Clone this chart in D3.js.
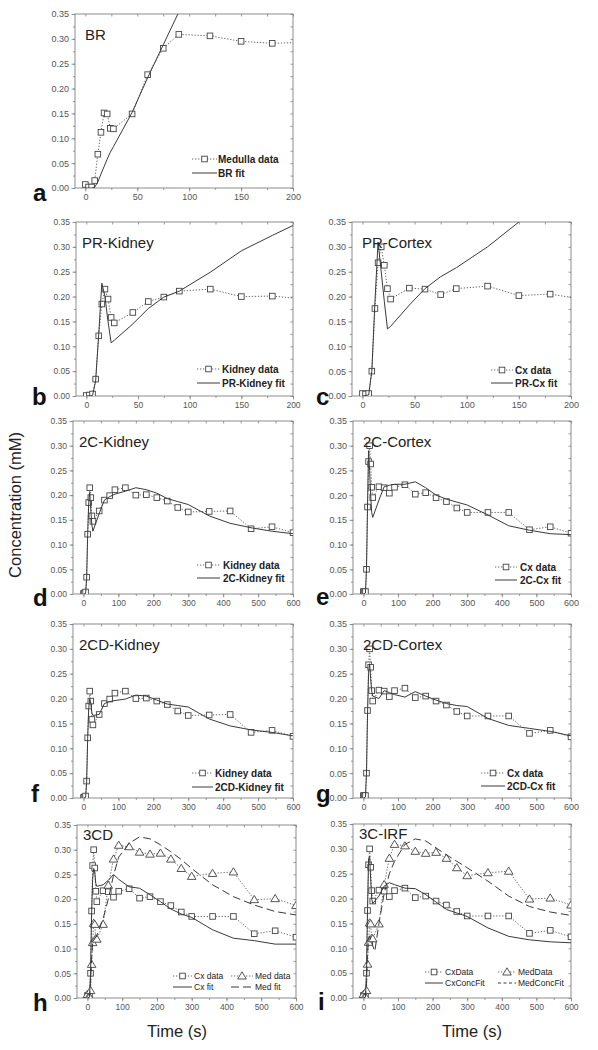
<!DOCTYPE html>
<html><head><meta charset="utf-8">
<script src="https://cdn.jsdelivr.net/npm/d3@7"></script>
<style>body{margin:0;background:#fff} svg{display:block} text{font-family:"Liberation Sans",Arial,sans-serif}</style>
</head><body><svg id="c" width="598" height="1050"></svg>
<script>
// ---------- data ----------
const times = [0,3,6,9,12,15,18,21,24,27,45,60,75,90,120,150,180,210,240,270,300,360,420,480,540,600];
const medullaData = [0.007,0.002,0.002,0.015,0.068,0.112,0.151,0.149,0.120,0.119,0.149,0.228,0.281,0.309,0.306,0.295,0.291,0.293,0.281,0.262,0.246,0.252,0.255,0.199,0.201,0.187];
const kidneyData  = [0.001,0.002,0.004,0.034,0.121,0.185,0.215,0.195,0.158,0.147,0.168,0.190,0.199,0.211,0.215,0.200,0.201,0.195,0.188,0.175,0.166,0.167,0.168,0.132,0.136,0.124];
const cortexData  = [0.005,0.004,0.005,0.050,0.176,0.268,0.300,0.263,0.216,0.195,0.217,0.215,0.204,0.216,0.221,0.202,0.205,0.195,0.187,0.174,0.165,0.165,0.165,0.130,0.136,0.123];

const brFit = [[0,0],[6,0],[9,0.002],[12,0.012],[15,0.028],[18,0.043],[21,0.058],[24,0.072],[27,0.083],[45,0.152],[60,0.222],[75,0.288],[90,0.354],[120,0.48]];
const prKidneyFit = [[0,0],[6,0.001],[9,0.03],[12,0.125],[15,0.227],[18,0.2],[21,0.15],[24,0.107],[27,0.112],[45,0.145],[60,0.176],[75,0.199],[90,0.211],[120,0.249],[150,0.292],[180,0.323],[210,0.353]];
const prCortexFit = [[0,0],[6,0.002],[9,0.05],[12,0.19],[15,0.31],[18,0.25],[21,0.19],[24,0.135],[27,0.14],[45,0.183],[60,0.216],[75,0.24],[90,0.258],[120,0.3],[150,0.35],[180,0.4]];
const c2KidneyFit = [[0,0],[6,0.001],[9,0.03],[12,0.12],[15,0.185],[18,0.205],[21,0.17],[24,0.14],[27,0.127],[45,0.163],[60,0.19],[75,0.197],[90,0.202],[120,0.208],[150,0.215],[180,0.211],[210,0.204],[240,0.193],[270,0.187],[300,0.181],[360,0.158],[420,0.143],[480,0.134],[540,0.127],[600,0.122]];
const c2CortexFit = [[0,0],[6,0.002],[9,0.05],[12,0.18],[15,0.29],[18,0.25],[21,0.2],[24,0.165],[27,0.155],[45,0.19],[60,0.217],[75,0.22],[90,0.222],[120,0.222],[150,0.227],[180,0.215],[210,0.2],[240,0.192],[270,0.186],[300,0.18],[360,0.16],[420,0.138],[480,0.129],[540,0.122],[600,0.12]];
const c2dKidneyFit = [[0,0],[6,0.001],[9,0.03],[12,0.12],[15,0.18],[18,0.2],[21,0.19],[24,0.172],[27,0.166],[45,0.168],[60,0.19],[75,0.194],[90,0.196],[120,0.199],[150,0.207],[180,0.205],[210,0.197],[240,0.189],[270,0.186],[300,0.183],[360,0.159],[420,0.145],[480,0.137],[540,0.132],[600,0.125]];
const c2dCortexFit = [[0,0],[6,0.002],[9,0.05],[12,0.17],[15,0.25],[18,0.27],[21,0.24],[24,0.215],[27,0.205],[45,0.2],[60,0.216],[75,0.212],[90,0.208],[120,0.203],[150,0.214],[180,0.205],[210,0.197],[240,0.19],[270,0.186],[300,0.184],[360,0.16],[420,0.146],[480,0.14],[540,0.134],[600,0.125]];
const c3dCxFit = [[0,0],[6,0.002],[9,0.05],[12,0.17],[15,0.24],[18,0.262],[21,0.255],[24,0.232],[27,0.226],[45,0.229],[60,0.238],[75,0.25],[90,0.24],[120,0.225],[150,0.222],[180,0.209],[210,0.195],[240,0.18],[270,0.17],[300,0.163],[360,0.138],[420,0.121],[480,0.116],[540,0.109],[600,0.109]];
const c3dMedFit = [[0,0],[6,0.002],[9,0.03],[12,0.08],[15,0.11],[18,0.118],[21,0.12],[24,0.122],[27,0.126],[45,0.16],[60,0.2],[75,0.248],[90,0.285],[120,0.313],[150,0.326],[180,0.322],[210,0.31],[240,0.296],[270,0.28],[300,0.262],[360,0.229],[420,0.205],[480,0.188],[540,0.175],[600,0.168]];
const c3irfCxFit = [[0,0],[6,0.002],[9,0.05],[12,0.18],[15,0.28],[18,0.285],[21,0.24],[24,0.2],[27,0.19],[45,0.205],[60,0.225],[75,0.232],[90,0.228],[120,0.221],[150,0.22],[180,0.208],[210,0.193],[240,0.178],[270,0.171],[300,0.164],[360,0.141],[420,0.124],[480,0.117],[540,0.113],[600,0.111]];
const c3irfMedFit = [[0,0],[6,0.002],[9,0.03],[12,0.09],[15,0.12],[18,0.125],[21,0.118],[24,0.12],[27,0.105],[33,0.094],[45,0.15],[60,0.21],[75,0.25],[90,0.275],[120,0.309],[150,0.32],[180,0.316],[210,0.302],[240,0.288],[270,0.275],[300,0.262],[360,0.235],[420,0.205],[480,0.184],[540,0.173],[600,0.166]];

const yTicks = [0,0.05,0.10,0.15,0.20,0.25,0.30,0.35];
const xTicksShort = [0,50,100,150,200];
const xTicksLong = [0,100,200,300,400,500,600];
const panelLetters = ["a","b","c","d","e","f","g","h","i"];
const panelTitles = ["BR","PR-Kidney","PR-Cortex","2C-Kidney","2C-Cortex","2CD-Kidney","2CD-Cortex","3CD","3C-IRF"];
const legendLabels = [
  ["Medulla data","BR fit"],
  ["Kidney data","PR-Kidney fit"],
  ["Cx data","PR-Cx fit"],
  ["Kidney data","2C-Kidney fit"],
  ["Cx data","2C-Cx fit"],
  ["Kidney data","2CD-Kidney fit"],
  ["Cx data","2CD-Cx fit"],
  ["Cx data","Med data","Cx fit","Med fit"],
  ["CxData","MedData","CxConcFit","MedConcFit"]
];

// ---------- layout ----------
const svg = d3.select("#c");
svg.append("rect").attr("width",598).attr("height",1050).attr("fill","#fff");

const AX = "#808080", LBL = "#555", DATA = "#555", FIT = "#3a3a3a";

const panels = [
  {box:[75,14,293,188], xd:[-10,200], xt:xTicksShort, xm:25, letter:[33,201],
   data:[{v:medullaData,m:"sq"}], fits:[{p:brFit,s:"solid"}],
   leg:{sx:[192,217], tx:218, rows:[159,173], items:[{l:0,line:"dot",m:"sq"},{l:1,line:"solid"}]}},
  {box:[76,222,293,396], xd:[-10,200], xt:xTicksShort, xm:25, letter:[32,405],
   data:[{v:kidneyData,m:"sq"}], fits:[{p:prKidneyFit,s:"solid"}],
   leg:{sx:[197,220], tx:222, rows:[369,383], items:[{l:0,line:"dot",m:"sq"},{l:1,line:"solid"}]}},
  {box:[352,222,571,396], xd:[-10,200], xt:xTicksShort, xm:25, letter:[316,405],
   data:[{v:cortexData,m:"sq"}], fits:[{p:prCortexFit,s:"solid"}],
   leg:{sx:[491,513], tx:515, rows:[370,383], items:[{l:0,line:"dot",m:"sq"},{l:1,line:"solid"}]}},
  {box:[73,421,293,594], xd:[-30,600], xt:xTicksLong, xm:50, letter:[33,606],
   data:[{v:kidneyData,m:"sq"}], fits:[{p:c2KidneyFit,s:"solid"}],
   leg:{sx:[197,220], tx:223, rows:[565,578], items:[{l:0,line:"dot",m:"sq"},{l:1,line:"solid"}]}},
  {box:[353,421,571,594], xd:[-30,600], xt:xTicksLong, xm:50, letter:[316,605],
   data:[{v:cortexData,m:"sq"}], fits:[{p:c2CortexFit,s:"solid"}],
   leg:{sx:[495,517], tx:520, rows:[567,580], items:[{l:0,line:"dot",m:"sq"},{l:1,line:"solid"}]}},
  {box:[73,624,293,798], xd:[-30,600], xt:xTicksLong, xm:50, letter:[31,802],
   data:[{v:kidneyData,m:"sq"}], fits:[{p:c2dKidneyFit,s:"solid"}],
   leg:{sx:[192,213], tx:215, rows:[773,787], items:[{l:0,line:"dot",m:"sq"},{l:1,line:"solid"}]}},
  {box:[353,624,571,798], xd:[-30,600], xt:xTicksLong, xm:50, letter:[316,802],
   data:[{v:cortexData,m:"sq"}], fits:[{p:c2dCortexFit,s:"solid"}],
   leg:{sx:[481,505], tx:507, rows:[773,786], items:[{l:0,line:"dot",m:"sq"},{l:1,line:"solid"}]}},
  {box:[77,825,296,998], xd:[-30,600], xt:xTicksLong, xm:50, letter:[33,1011],
   data:[{v:cortexData,m:"sq"},{v:medullaData,m:"tri"}], fits:[{p:c3dCxFit,s:"solid"},{p:c3dMedFit,s:"dash"}],
   leg:{small:true, cols:[{sx:[173,192],tx:194},{sx:[231,253],tx:255}], rows:[976,987],
        items:[{l:0,line:"dot",m:"sq",c:0,r:0},{l:1,line:"dot",m:"tri",c:1,r:0},{l:2,line:"solid",c:0,r:1},{l:3,line:"dash",c:1,r:1}]}},
  {box:[353,824,571,998], xd:[-30,600], xt:xTicksLong, xm:50, letter:[318,1010],
   data:[{v:cortexData,m:"sq"},{v:medullaData,m:"tri"}], fits:[{p:c3irfCxFit,s:"solid"},{p:c3irfMedFit,s:"dash"}],
   leg:{small:true, cols:[{sx:[425,443],tx:445},{sx:[498,516],tx:518}], rows:[972,983],
        items:[{l:0,line:"dot",m:"sq",c:0,r:0},{l:1,line:"dot",m:"tri",c:1,r:0},{l:2,line:"solid",c:0,r:1},{l:3,line:"sdash",c:1,r:1}]}}
];

const dashOf = s => s==="dot" ? "1.3,1.7" : s==="dash" ? "8,4" : s==="sdash" ? "3,2.5" : null;

function marker(sel, type, cx, cy){
  if(type==="sq"){
    sel.append("rect").attr("x",cx-2.8).attr("y",cy-2.8).attr("width",5.6).attr("height",5.6)
      .attr("fill","#fff").attr("stroke","#444").attr("stroke-width",0.9);
  } else if(type==="tri"){
    sel.append("path").attr("d",`M${cx},${cy-4.2}L${cx+4.3},${cy+3}L${cx-4.3},${cy+3}Z`)
      .attr("fill","#fff").attr("stroke","#444").attr("stroke-width",0.9);
  }
}

panels.forEach((p,i)=>{
  const [x0,y0,x1,y1] = p.box;
  const x = d3.scaleLinear().domain(p.xd).range([x0,x1]);
  const y = d3.scaleLinear().domain([0,0.35]).range([y1,y0]);
  const g = svg.append("g");
  const cid = "clip"+i;
  svg.append("clipPath").attr("id",cid).append("rect")
    .attr("x",x0).attr("y",y0).attr("width",x1-x0).attr("height",y1-y0);

  const tfs = (i%2===0 && i<8) ? 9 : 8.5;
  const xMinor = d3.range(0, p.xd[1]+0.001, p.xm);
  const yMinor = d3.range(0, 0.351, 0.025);
  const style = a => { a.selectAll("path").remove(); a.selectAll("line").attr("stroke",AX).attr("stroke-width",0.8);
                       a.selectAll("text").attr("fill",LBL).attr("font-size",tfs).attr("font-family","Liberation Sans, Arial, sans-serif"); };
  g.append("g").attr("transform",`translate(${x0},0)`)
    .call(d3.axisLeft(y).tickValues(yMinor).tickFormat("").tickSize(2)).call(style);
  g.append("g").attr("transform",`translate(${x0},0)`)
    .call(d3.axisLeft(y).tickValues(yTicks).tickFormat(d3.format(".2f")).tickSize(3.5).tickPadding(2.5)).call(style);
  g.append("g").attr("transform",`translate(0,${y1})`)
    .call(d3.axisBottom(x).tickValues(xMinor).tickFormat("").tickSize(2)).call(style);
  g.append("g").attr("transform",`translate(0,${y1})`)
    .call(d3.axisBottom(x).tickValues(p.xt).tickFormat(d3.format("d")).tickSize(3.5).tickPadding(2)).call(style);
  g.append("g").attr("transform",`translate(0,${y0})`)
    .call(d3.axisTop(x).tickValues(xMinor).tickFormat("").tickSize(-2.5)).call(style);
  g.append("g").attr("transform",`translate(${x1},0)`)
    .call(d3.axisRight(y).tickValues(yMinor).tickFormat("").tickSize(-2.5)).call(style);
  g.append("rect").attr("x",x0).attr("y",y0).attr("width",x1-x0).attr("height",y1-y0)
    .attr("fill","none").attr("stroke",AX).attr("stroke-width",0.9);

  const plot = g.append("g").attr("clip-path",`url(#${cid})`);
  const line = d3.line().x(d=>x(d[0])).y(d=>y(d[1]));

  p.data.forEach(s=>{
    const pts = times.map((t,k)=>[t,s.v[k]]);
    plot.append("path").attr("d",line(pts)).attr("fill","none")
      .attr("stroke",DATA).attr("stroke-width",0.9).attr("stroke-dasharray",dashOf("dot"));
  });
  p.data.forEach(s=>{
    times.forEach((t,k)=>{ if(t<=p.xd[1]+5) marker(plot, s.m, x(t), y(s.v[k])); });
  });
  p.fits.forEach(f=>{
    plot.append("path").attr("d",line(f.p)).attr("fill","none")
      .attr("stroke",FIT).attr("stroke-width",1).attr("stroke-dasharray",dashOf(f.s));
  });

  // title
  g.append("text").attr("x",x0+(i%2===0 && i<8 ? 10 : 6)).attr("y",y0+ (i>=7?15:26))
    .attr("font-size",15).attr("fill","#222").text(panelTitles[i]);
  // panel letter
  g.append("text").attr("x",p.letter[0]).attr("y",p.letter[1]).attr("font-size",24)
    .attr("font-weight","bold").attr("fill","#111").text(panelLetters[i]);

  // legend
  const L = p.leg, fs = L.small ? 8.5 : 10;
  L.items.forEach((it,k)=>{
    const row = L.small ? it.r : k;
    const cy = L.rows[row];
    const sx = L.small ? L.cols[it.c].sx : L.sx;
    const tx = L.small ? L.cols[it.c].tx : L.tx;
    g.append("line").attr("x1",sx[0]).attr("x2",sx[1]).attr("y1",cy).attr("y2",cy)
      .attr("stroke", it.line==="dot"?DATA:FIT).attr("stroke-width",it.line==="dot"?0.9:1)
      .attr("stroke-dasharray",dashOf(it.line));
    if(it.m) marker(g, it.m, (sx[0]+sx[1])/2, cy);
    g.append("text").attr("x",tx).attr("y",cy+fs*0.36).attr("font-size",fs)
      .attr("font-weight",L.small?"normal":"bold").attr("fill","#222").text(legendLabels[i][it.l]);
  });
});

// shared axis titles
svg.append("text").attr("transform","translate(21,505) rotate(-90)").attr("text-anchor","middle")
  .attr("font-size",16.5).attr("fill","#222").text("Concentration (mM)");
svg.append("text").attr("x",177).attr("y",1037).attr("text-anchor","middle").attr("font-size",16.5).attr("fill","#222").text("Time (s)");
svg.append("text").attr("x",472).attr("y",1037).attr("text-anchor","middle").attr("font-size",16.5).attr("fill","#222").text("Time (s)");
</script></body></html>
